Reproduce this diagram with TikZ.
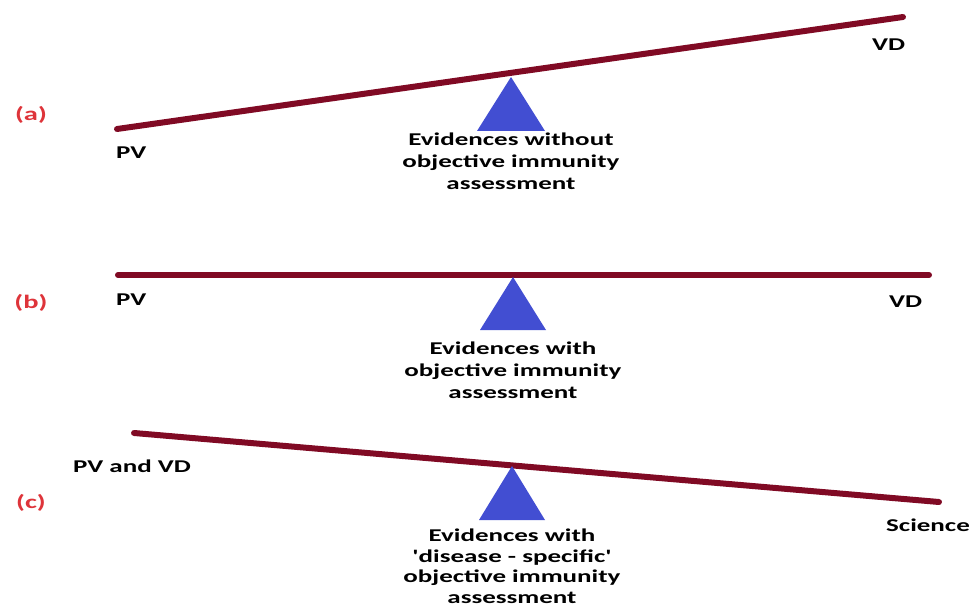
\documentclass[tikz,border=0pt]{standalone}
\usepackage{graphicx}
\usepackage{fontspec}
\setmainfont{Carlito}
\definecolor{beamc}{RGB}{128,10,36}
\definecolor{fulc}{RGB}{66,78,210}
\definecolor{labc}{RGB}{222,52,58}
\newcommand{\wide}[1]{\scalebox{1.5}[1]{#1}}
\begin{document}
\begin{tikzpicture}[x=1pt,y=-1pt,
  beam/.style={draw=beamc,line width=6pt,line cap=round},
  fulcrum/.style={fill=fulc},
  tag/.style={text=labc,font=\fontsize{19}{22}\selectfont\bfseries,inner sep=0pt},
  word/.style={font=\fontsize{18}{22}\selectfont\bfseries,inner sep=0pt},
  desc/.style={font=\fontsize{18}{22}\selectfont\bfseries,align=center,anchor=north,inner sep=0pt}]
\useasboundingbox (0,0) rectangle (970,607);
% (a)
\node[tag] (la) at (31,115) {\wide{(a)}};
\coordinate (a1) at (117,129);
\coordinate (a2) at (903,17);
\draw[beam] (a1) -- (a2);
\fill[fulcrum] (511,77) -- (545,131) -- (477,131) -- cycle;
\node[word,anchor=west] (pva) at (116,153) {\wide{PV}};
\node[word,anchor=west] (vda) at (872,45) {\wide{VD}};
\node[desc] (da) at (511,133) {\wide{Evidences without}\\\wide{objective immunity}\\\wide{assessment}};
% (b)
\node[tag] (lb) at (31,303) {\wide{(b)}};
\coordinate (b1) at (118,275);
\coordinate (b2) at (929,275);
\draw[beam] (b1) -- (b2);
\fill[fulcrum] (513,277) -- (546,330) -- (480,330) -- cycle;
\node[word,anchor=west] (pvb) at (116,300) {\wide{PV}};
\node[word,anchor=west] (vdb) at (889,302) {\wide{VD}};
\node[desc] (db) at (513,342) {\wide{Evidences with}\\\wide{objective immunity}\\\wide{assessment}};
% (c)
\node[tag] (lc) at (31,503) {\wide{(c)}};
\coordinate (c1) at (134,433);
\coordinate (c2) at (939,502);
\draw[beam] (c1) -- (c2);
\fill[fulcrum] (512,466) -- (545,520) -- (479,520) -- cycle;
\node[word,anchor=west] (pvc) at (73,466) {\wide{PV and VD}};
\node[word,anchor=west] (sci) at (886,525) {\wide{Science}};
\node[desc,font=\fontsize{18}{20.5}\selectfont\bfseries] (dc) at (512,529) {\wide{Evidences with}\\\wide{\textquotesingle disease - specific\textquotesingle}\\\wide{objective immunity}\\\wide{assessment}};
\end{tikzpicture}
\end{document}
